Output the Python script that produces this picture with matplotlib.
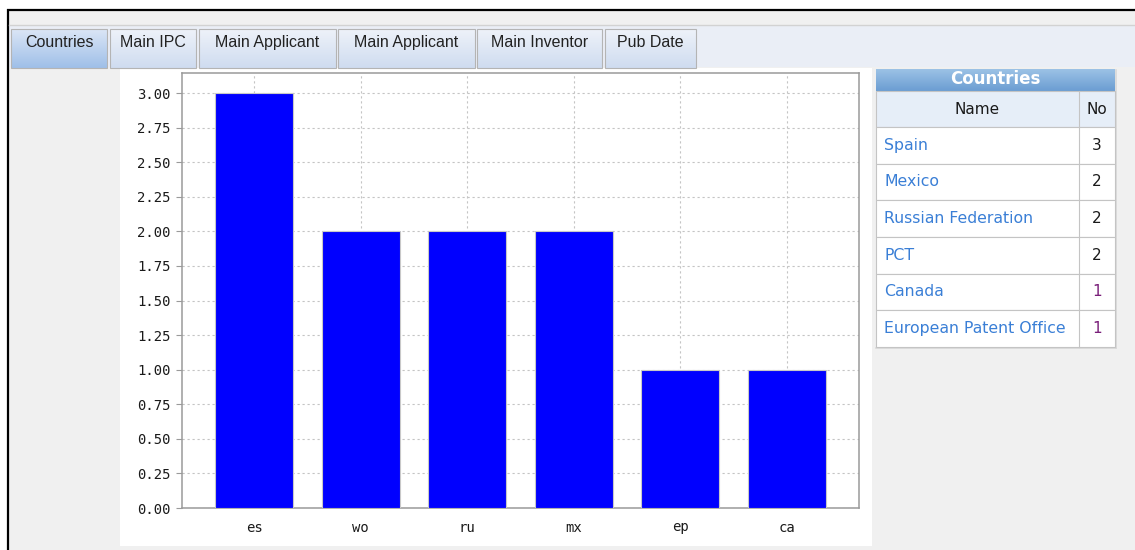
import matplotlib
matplotlib.use("Agg")
import matplotlib.pyplot as plt
import numpy as np
from matplotlib.patches import Rectangle

# chart data
codes = ["es", "wo", "ru", "mx", "ep", "ca"]
counts = [3, 2, 2, 2, 1, 1]
yticks = [0.0, 0.25, 0.5, 0.75, 1.0, 1.25, 1.5, 1.75, 2.0, 2.25, 2.5, 2.75, 3.0]

# side table
table_title = "Countries"
table_names = ["Spain", "Mexico", "Russian Federation", "PCT", "Canada", "European Patent Office"]
table_nums = [3, 2, 2, 2, 1, 1]

# tab strip
tab_labels = ["Countries", "Main IPC", "Main Applicant", "Main Applicant", "Main Inventor", "Pub Date"]
tab_edges = [(11, 107), (110, 196), (199, 336), (338, 475), (477, 602), (605, 696)]

W, H = 1135, 550
fig = plt.figure(figsize=(W / 100, H / 100), dpi=100)
fig.patch.set_facecolor("white")

# background canvas in pixel coords
bg = fig.add_axes([0, 0, 1, 1], zorder=0)
bg.set_xlim(0, W)
bg.set_ylim(H, 0)
bg.axis("off")

bg.add_patch(Rectangle((8, 10), W - 8, H - 10, facecolor="#f0f0f0", edgecolor="none"))
bg.plot([7, W], [10, 10], color="black", lw=1.6, solid_capstyle="butt")
bg.plot([8, 8], [9, H], color="black", lw=1.6, solid_capstyle="butt")
bg.add_patch(Rectangle((9, 25), W - 9, 42, facecolor="#eaeef6", edgecolor="none"))
bg.plot([9, W], [24.5, 24.5], color="#d2d2d2", lw=1.0)


def grad(ax, x0, x1, y0, y1, c_top, c_bot):
    c_top = np.array(matplotlib.colors.to_rgb(c_top))
    c_bot = np.array(matplotlib.colors.to_rgb(c_bot))
    t = np.linspace(0, 1, 64)[:, None, None]
    img = c_top * (1 - t) + c_bot * t
    ax.imshow(img, extent=(x0, x1, y1, y0), aspect="auto", interpolation="bilinear", zorder=2)


for i, (lab, (x0, x1)) in enumerate(zip(tab_labels, tab_edges)):
    if i == 0:
        grad(bg, x0, x1, 29, 68, "#dbe6f6", "#9fbfe8")
    else:
        grad(bg, x0, x1, 29, 68, "#eef2f9", "#cfdcf0")
    bg.add_patch(Rectangle((x0, 29), x1 - x0, 39, facecolor="none", edgecolor="#b4b4b4", lw=0.8, zorder=3))
    bg.text((x0 + x1) / 2, 42.5, lab, ha="center", va="center", fontsize=11.5, color="#222222",
            family="Liberation Sans", zorder=4)

# white chart panel
bg.add_patch(Rectangle((120, 68), 752, 478, facecolor="white", edgecolor="none"))
bg.set_xlim(0, W)
bg.set_ylim(H, 0)

# side table
tx0, tx1, tsplit = 876, 1115, 1079
grad(bg, tx0, tx1, 69, 91, "#9cc2e6", "#6b9dd2")
bg.text((tx0 + tx1) / 2, 79.5, table_title, ha="center", va="center", fontsize=12,
        fontweight="bold", color="white", zorder=4)
bg.add_patch(Rectangle((tx0, 91), tx1 - tx0, 36, facecolor="#e6eef8", edgecolor="#c4c4c4", lw=0.8, zorder=3))
bg.text((tx0 + tsplit) / 2, 109, "Name", ha="center", va="center", fontsize=11, color="#1a1a1a", zorder=4)
bg.text((tsplit + tx1) / 2, 109, "No", ha="center", va="center", fontsize=11, color="#1a1a1a", zorder=4)
rh = (347 - 127) / len(table_names)
for k, (nm, n) in enumerate(zip(table_names, table_nums)):
    y0 = 127 + k * rh
    bg.add_patch(Rectangle((tx0, y0), tx1 - tx0, rh, facecolor="white", edgecolor="#c4c4c4", lw=0.8, zorder=3))
    bg.text(tx0 + 8, y0 + rh / 2, nm, ha="left", va="center", fontsize=11.3, color="#3a7fd6", zorder=4)
    bg.text((tsplit + tx1) / 2, y0 + rh / 2, str(n), ha="center", va="center", fontsize=11,
            color="#7a1f7a" if n == 1 else "#1a1a1a", zorder=4)
bg.plot([tsplit, tsplit], [91, 347], color="#c4c4c4", lw=0.8, zorder=5)
bg.plot([tx0, tx1 + 1], [348, 348], color="#d8d8d8", lw=1.2, zorder=2)
bg.plot([tx1 + 1, tx1 + 1], [70, 348], color="#d8d8d8", lw=1.2, zorder=2)

# bar chart
ax_l, ax_r, ax_t, ax_b = 182, 859, 73, 508
ax = fig.add_axes([ax_l / W, 1 - ax_b / H, (ax_r - ax_l) / W, (ax_b - ax_t) / H], zorder=1)
ax.set_facecolor("white")
x = np.arange(len(codes))
ax.bar(x, counts, width=0.73, color="#0000ff", edgecolor="#c8c8c8", linewidth=0.8, zorder=3)
ax.set_xlim(-0.677, len(codes) - 1 + 0.677)
ax.set_ylim(0, 3.145)
ax.set_xticks(x)
ax.set_xticklabels(codes)
ax.set_yticks(yticks)
ax.set_yticklabels([f"{v:.2f}" for v in yticks])
ax.grid(True, color="#c4c4c4", linestyle=(0, (2, 2.5)), linewidth=0.8, zorder=0)
ax.set_axisbelow(True)
for s in ax.spines.values():
    s.set_color("#9a9a9a")
    s.set_linewidth(1.1)
ax.tick_params(axis="y", length=4, width=0.8, color="#9a9a9a", pad=4, labelsize=10)
ax.tick_params(axis="x", length=0, pad=9, labelsize=10)
for lab in ax.get_xticklabels() + ax.get_yticklabels():
    lab.set_family("DejaVu Sans Mono")
    lab.set_color("#1a1a1a")

fig.savefig("out.png", dpi=100)
